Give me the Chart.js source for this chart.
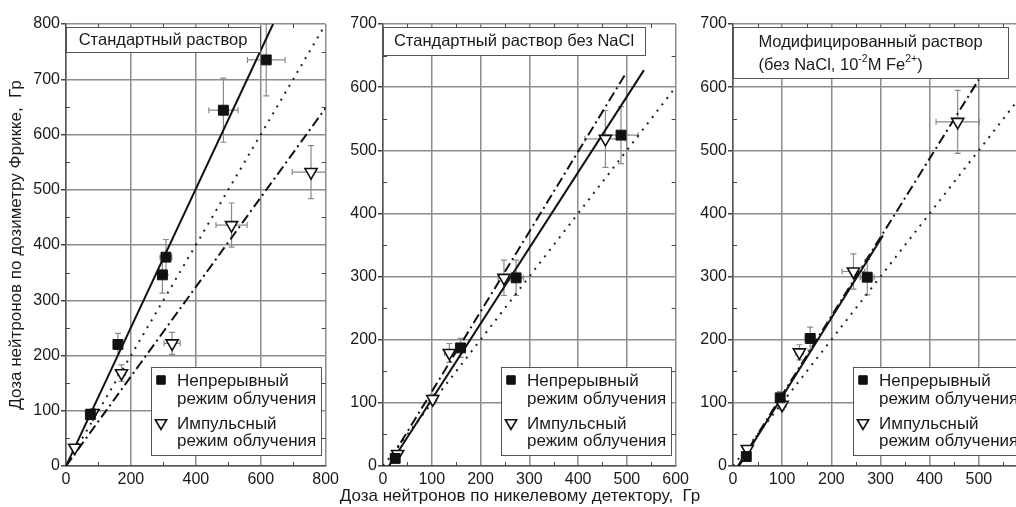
<!DOCTYPE html>
<html>
<head>
<meta charset="utf-8">
<script src="https://cdn.jsdelivr.net/npm/chart.js@4.4.1/dist/chart.umd.min.js"></script>
<style>
html, body { margin:0; padding:0; background:#fff; width:1016px; height:507px; overflow:hidden; position:relative; }
canvas { position:absolute; top:0; }
#x_title { position:absolute; left:320px; width:400px; top:486px; text-align:center; white-space:pre;
  font:17px "Liberation Sans", Arial, sans-serif; color:#1a1a1a; }
</style>
</head>
<body>
<canvas id="panel_1" width="340" height="507" style="left:0px"></canvas>
<canvas id="panel_2" width="350" height="507" style="left:340px"></canvas>
<canvas id="panel_3" width="350" height="507" style="left:690px"></canvas>
<div id="x_title"></div>
<script>
const font_family = '"Liberation Sans", Arial, sans-serif';
const y_title = 'Доза нейтронов по дозиметру Фрикке,  Гр';
const x_title = 'Доза нейтронов по никелевому детектору,  Гр';
const legend_cont = ['Непрерывный', 'режим облучения'];
const legend_pulse = ['Импульсный', 'режим облучения'];

// panel 1 - standard solution
const p1_sq_x  = [75, 160, 297, 308, 485, 617];
const p1_sq_y  = [93, 220, 346, 378, 644, 735];
const p1_sq_xe = [8, 12, 15, 18, 45, 58];
const p1_sq_ye = [8, 20, 33, 32, 58, 65];
const p1_tr_x  = [27, 83, 171, 327, 510, 755];
const p1_tr_y  = [33, 96, 168, 222, 436, 532];
const p1_tr_xe = [5, 10, 12, 25, 48, 58];
const p1_tr_ye = [5, 8, 15, 20, 40, 48];
const p1_solid_x = [0, 638],   p1_solid_y = [0, 800];
const p1_dashdot_x = [0, 800], p1_dashdot_y = [0, 648];
const p1_dot_x = [0, 790],     p1_dot_y = [0, 790];

// panel 2 - standard solution without NaCl
const p2_sq_x  = [25, 159, 273, 488];
const p2_sq_y  = [12, 187, 298, 524];
const p2_sq_xe = [5, 10, 15, 35];
const p2_sq_ye = [5, 15, 28, 45];
const p2_tr_x  = [30, 102, 136, 248, 456];
const p2_tr_y  = [19, 106, 179, 298, 518];
const p2_tr_xe = [5, 8, 10, 12, 42];
const p2_tr_ye = [5, 8, 15, 28, 45];
const p2_solid_x = [12, 535],   p2_solid_y = [0, 627];
const p2_dashdot_x = [15, 498], p2_dashdot_y = [10, 622];
const p2_dot_x = [0, 600],      p2_dot_y = [0, 600];

// panel 3 - modified solution
const p3_sq_x  = [27, 96, 157, 273];
const p3_sq_y  = [15, 108, 202, 299];
const p3_sq_xe = [4, 8, 10, 14];
const p3_sq_ye = [5, 10, 18, 28];
const p3_tr_x  = [29, 100, 135, 245, 457];
const p3_tr_y  = [27, 97, 180, 308, 545];
const p3_tr_xe = [4, 8, 8, 23, 44];
const p3_tr_ye = [4, 8, 12, 28, 50];
const p3_solid_x = [12, 305],   p3_solid_y = [0, 365];
const p3_dashdot_x = [10, 500], p3_dashdot_y = [0, 612];
const p3_dot_x = [0, 600],      p3_dot_y = [0, 600];

document.getElementById('x_title').textContent = x_title;

function pts(xs, ys){ return xs.map((v, i) => ({x: v, y: ys[i]})); }

function line_to(ctx, x0, y0, x1, y1){ ctx.moveTo(x0, y0); ctx.lineTo(x1, y1); }

const panel_extras = {
  id: 'panel_extras',
  beforeDatasetsDraw(chart, args, o){
    const {ctx, chartArea: a, scales: {x, y}} = chart;
    // minor ticks, inside
    ctx.save();
    ctx.strokeStyle = '#444'; ctx.lineWidth = 1;
    ctx.beginPath();
    const xs = x.options.ticks.stepSize, ys = y.options.ticks.stepSize;
    for (let v = x.min + xs/2; v < x.max; v += xs){
      const p = Math.round(x.getPixelForValue(v)) + 0.5;
      line_to(ctx, p, a.bottom, p, a.bottom - 4);
      line_to(ctx, p, a.top, p, a.top + 4);
    }
    for (let v = y.min + ys/2; v < y.max; v += ys){
      const p = Math.round(y.getPixelForValue(v)) + 0.5;
      line_to(ctx, a.left, p, a.left + 4, p);
      line_to(ctx, a.right, p, a.right - 4, p);
    }
    ctx.stroke();
    // error bars
    ctx.beginPath(); ctx.rect(a.left, a.top, a.right - a.left, a.bottom - a.top); ctx.clip();
    ctx.strokeStyle = '#8a8a8a'; ctx.lineWidth = 1.2;
    o.err_sets.forEach(s => {
      s.x.forEach((xv, i) => {
        const px = x.getPixelForValue(xv), py = y.getPixelForValue(s.y[i]);
        const x0 = x.getPixelForValue(xv - s.xe[i]), x1 = x.getPixelForValue(xv + s.xe[i]);
        const y0 = y.getPixelForValue(s.y[i] - s.ye[i]), y1 = y.getPixelForValue(s.y[i] + s.ye[i]);
        ctx.beginPath();
        line_to(ctx, x0, py, x1, py);
        line_to(ctx, x0, py - 3, x0, py + 3);
        line_to(ctx, x1, py - 3, x1, py + 3);
        line_to(ctx, px, y0, px, y1);
        line_to(ctx, px - 3, y0, px + 3, y0);
        line_to(ctx, px - 3, y1, px + 3, y1);
        ctx.stroke();
      });
    });
    ctx.restore();
  },
  afterDatasetsDraw(chart, args, o){
    const {ctx, chartArea: a} = chart;
    const big = '16.5px ' + font_family, small = '10.5px ' + font_family, leg = '17px ' + font_family;
    ctx.save();
    // title box in the top left corner
    const tb = o.title_box;
    const bx = Math.round(a.left), by = Math.round(a.top) + 3;
    ctx.fillStyle = '#fff'; ctx.fillRect(bx, by, tb.w, tb.h);
    ctx.strokeStyle = '#555'; ctx.lineWidth = 1;
    ctx.strokeRect(bx + 0.5, by + 0.5, tb.w, tb.h);
    ctx.textBaseline = 'middle'; ctx.textAlign = 'left'; ctx.fillStyle = '#1a1a1a';
    const seg_w = seg => { ctx.font = seg.sup ? small : big; return ctx.measureText(seg.t).width; };
    const w0 = tb.lines[0].reduce((s, seg) => s + seg_w(seg), 0);
    const tx0 = bx + (tb.w - w0) / 2;
    tb.lines.forEach((line, li) => {
      let tx = tx0; const ty = by + tb.line_y[li];
      line.forEach(seg => {
        ctx.font = seg.sup ? small : big;
        ctx.fillText(seg.t, tx, seg.sup ? ty - 6 : ty);
        tx += ctx.measureText(seg.t).width;
      });
    });
    // legend box in the bottom right corner
    const lw = 170, lh = 88;
    const lx = Math.round(a.right) - 5 - lw, ly = Math.round(a.bottom) - 11 - lh;
    ctx.fillStyle = '#fff'; ctx.fillRect(lx, ly, lw, lh);
    ctx.strokeStyle = '#555'; ctx.strokeRect(lx + 0.5, ly + 0.5, lw, lh);
    ctx.fillStyle = '#111'; ctx.strokeStyle = '#111';
    Chart.helpers.drawPoint(ctx, {pointStyle: 'rect', radius: 6, borderWidth: 1}, lx + 10, ly + 13);
    ctx.fillStyle = '#fff'; ctx.lineWidth = 1.6;
    Chart.helpers.drawPoint(ctx, {pointStyle: 'triangle', rotation: 180, radius: 6.5, borderWidth: 1.6}, lx + 10, ly + 56);
    ctx.fillStyle = '#1a1a1a'; ctx.font = leg;
    ctx.fillText(legend_cont[0], lx + 26, ly + 14);
    ctx.fillText(legend_cont[1], lx + 26, ly + 32);
    ctx.fillText(legend_pulse[0], lx + 26, ly + 57);
    ctx.fillText(legend_pulse[1], lx + 26, ly + 74);
    ctx.restore();
  }
};
Chart.register(panel_extras);

function build_panel(canvas_id, p){
  const canvas = document.getElementById(canvas_id);
  return new Chart(canvas, {
    type: 'scatter',
    data: {
      datasets: [
        { label: legend_cont.join(' '), data: pts(p.sq_x, p.sq_y), pointStyle: 'rect', pointRadius: 7,
          backgroundColor: '#111', borderColor: '#111', borderWidth: 1 },
        { label: legend_pulse.join(' '), data: pts(p.tr_x, p.tr_y), pointStyle: 'triangle', pointRotation: 180,
          pointRadius: 7, backgroundColor: '#fff', borderColor: '#111', borderWidth: 1.6 },
        { label: 'solid', data: pts(p.solid_x, p.solid_y), showLine: true, pointRadius: 0,
          borderColor: '#111', borderWidth: 2 },
        { label: 'dashdot', data: pts(p.dashdot_x, p.dashdot_y), showLine: true, pointRadius: 0,
          borderColor: '#111', borderWidth: 2, borderDash: [10, 4, 2, 4] },
        { label: 'dot', data: pts(p.dot_x, p.dot_y), showLine: true, pointRadius: 0,
          borderColor: '#222', borderWidth: 2, borderDash: [2, 6] },
      ]
    },
    options: {
      responsive: false,
      animation: false,
      events: [],
      layout: { padding: { top: 24, right: 12, left: 0, bottom: 0 } },
      plugins: {
        legend: { display: false },
        tooltip: { enabled: false },
        panel_extras: {
          err_sets: [
            { x: p.sq_x, y: p.sq_y, xe: p.sq_xe, ye: p.sq_ye },
            { x: p.tr_x, y: p.tr_y, xe: p.tr_xe, ye: p.tr_ye },
          ],
          title_box: p.title_box,
        },
      },
      scales: {
        x: {
          type: 'linear', min: 0, max: p.x_max,
          ticks: { stepSize: p.x_step, color: '#1a1a1a', padding: 1, maxRotation: 0,
                   font: { family: font_family, size: 16 },
                   callback: v => v > p.x_label_max ? '' : v },
          grid: { color: '#8c8c8c', lineWidth: 1.5, tickLength: 3, tickColor: 'rgba(0,0,0,0)' },
          border: { color: '#555', width: 1.5 },
          afterFit(s){ s.height = 41; },
        },
        y: {
          type: 'linear', min: 0, max: p.y_max,
          ticks: { stepSize: 100, color: '#1a1a1a', padding: 1,
                   font: { family: font_family, size: 16 } },
          grid: { color: '#8c8c8c', lineWidth: 1.5, tickLength: 5, tickColor: '#444' },
          border: { color: '#555', width: 1.5 },
          title: { display: p.y_title, text: y_title, color: '#1a1a1a', padding: { top: 6, bottom: 0 },
                   font: { family: font_family, size: 17 } },
          afterFit(s){ s.width = p.y_width; },
        },
      },
    },
  });
}

build_panel('panel_1', {
  sq_x: p1_sq_x, sq_y: p1_sq_y, sq_xe: p1_sq_xe, sq_ye: p1_sq_ye,
  tr_x: p1_tr_x, tr_y: p1_tr_y, tr_xe: p1_tr_xe, tr_ye: p1_tr_ye,
  solid_x: p1_solid_x, solid_y: p1_solid_y, dashdot_x: p1_dashdot_x, dashdot_y: p1_dashdot_y,
  dot_x: p1_dot_x, dot_y: p1_dot_y,
  x_max: 800, x_step: 200, x_label_max: 800, y_max: 800, y_width: 66, y_title: true,
  title_box: { w: 194, h: 25, line_y: [13], lines: [[{ t: 'Стандартный раствор' }]] },
});
build_panel('panel_2', {
  sq_x: p2_sq_x, sq_y: p2_sq_y, sq_xe: p2_sq_xe, sq_ye: p2_sq_ye,
  tr_x: p2_tr_x, tr_y: p2_tr_y, tr_xe: p2_tr_xe, tr_ye: p2_tr_ye,
  solid_x: p2_solid_x, solid_y: p2_solid_y, dashdot_x: p2_dashdot_x, dashdot_y: p2_dashdot_y,
  dot_x: p2_dot_x, dot_y: p2_dot_y,
  x_max: 600, x_step: 100, x_label_max: 600, y_max: 700, y_width: 43, y_title: false,
  title_box: { w: 262, h: 28, line_y: [14], lines: [[{ t: 'Стандартный раствор без NaCl' }]] },
});
build_panel('panel_3', {
  sq_x: p3_sq_x, sq_y: p3_sq_y, sq_xe: p3_sq_xe, sq_ye: p3_sq_ye,
  tr_x: p3_tr_x, tr_y: p3_tr_y, tr_xe: p3_tr_xe, tr_ye: p3_tr_ye,
  solid_x: p3_solid_x, solid_y: p3_solid_y, dashdot_x: p3_dashdot_x, dashdot_y: p3_dashdot_y,
  dot_x: p3_dot_x, dot_y: p3_dot_y,
  x_max: 600, x_step: 100, x_label_max: 500, y_max: 700, y_width: 43, y_title: false,
  title_box: { w: 275, h: 51, line_y: [15, 38], lines: [
    [{ t: 'Модифицированный раствор' }],
    [{ t: '(без NaCl, 10' }, { t: '-2', sup: true }, { t: 'M Fe' }, { t: '2+', sup: true }, { t: ')' }],
  ] },
});
</script>
</body>
</html>
